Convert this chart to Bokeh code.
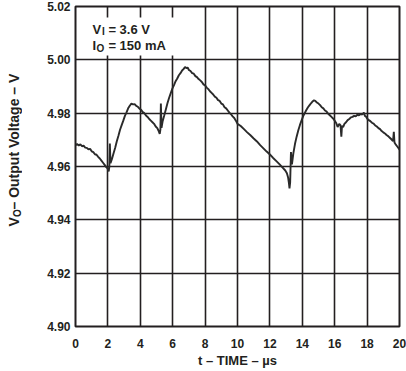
import math
from bokeh.plotting import figure
from bokeh.layouts import row
from bokeh.models import (Label, BoxAnnotation, FixedTicker, Range1d,
                          CustomJSTickFormatter)
from bokeh.embed import file_html
from bokeh.resources import INLINE

# Output voltage trace (time in µs, voltage in V)
time_us = [0.0, 0.1, 0.2, 0.3, 0.4, 0.5, 0.6, 0.7, 0.8, 0.9, 1.0, 1.1, 1.2, 1.3, 1.4,
           1.5, 1.6, 1.7, 1.8, 1.9, 1.97, 2.05, 2.09, 2.12, 2.16, 2.25, 2.35, 2.45,
           2.55, 2.65, 2.75, 2.85, 2.95, 3.05, 3.15, 3.25, 3.35, 3.45, 3.55, 3.65,
           3.75, 3.85, 3.95, 4.05, 4.15, 4.25, 4.35, 4.45, 4.55, 4.65, 4.75, 4.85,
           4.95, 5.05, 5.12, 5.2, 5.24, 5.27, 5.31, 5.38, 5.48, 5.58, 5.68, 5.78,
           5.88, 5.98, 6.08, 6.18, 6.28, 6.38, 6.48, 6.58, 6.68, 6.76, 6.84, 6.92,
           7.0, 7.1, 7.2, 7.3, 7.4, 7.5, 7.6, 7.7, 7.8, 7.9, 8.0, 8.1, 8.2, 8.3,
           8.4, 8.5, 8.6, 8.7, 8.8, 8.9, 9.0, 9.1, 9.2, 9.3, 9.4, 9.5, 9.6, 9.7,
           9.8, 9.9, 10.0, 10.2, 10.4, 10.6, 10.8, 11.0, 11.2, 11.4, 11.6, 11.8,
           12.0, 12.2, 12.4, 12.6, 12.8, 12.95, 13.05, 13.12, 13.17, 13.21, 13.25,
           13.3, 13.36, 13.45, 13.55, 13.65, 13.75, 13.85, 13.95, 14.05, 14.15,
           14.25, 14.35, 14.45, 14.55, 14.65, 14.72, 14.8, 14.9, 15.0, 15.1, 15.2,
           15.3, 15.4, 15.5, 15.6, 15.7, 15.8, 15.9, 16.0, 16.1, 16.18, 16.28,
           16.36, 16.41, 16.45, 16.52, 16.6, 16.7, 16.8, 16.9, 17.0, 17.1, 17.2,
           17.3, 17.4, 17.5, 17.6, 17.7, 17.8, 17.86, 17.92, 18.0, 18.1, 18.2,
           18.3, 18.4, 18.5, 18.6, 18.7, 18.8, 18.9, 19.0, 19.1, 19.2, 19.3, 19.4,
           19.5, 19.6, 19.65, 19.69, 19.75, 19.85, 19.95, 20.0]
voltage_v = [4.9680, 4.9684, 4.9679, 4.9683, 4.9676, 4.9678, 4.9671, 4.9670, 4.9664,
             4.9666, 4.9657, 4.9654, 4.9646, 4.9644, 4.9636, 4.9630, 4.9622, 4.9614,
             4.9606, 4.9597, 4.9594, 4.9582, 4.9600, 4.9686, 4.9612, 4.9628, 4.9650,
             4.9670, 4.9695, 4.9715, 4.9738, 4.9755, 4.9772, 4.9790, 4.9803, 4.9818,
             4.9828, 4.9836, 4.9833, 4.9834, 4.9827, 4.9824, 4.9817, 4.9813, 4.9804,
             4.9800, 4.9791, 4.9786, 4.9778, 4.9772, 4.9766, 4.9760, 4.9750, 4.9744,
             4.9735, 4.9722, 4.9738, 4.9836, 4.9745, 4.9770, 4.9792, 4.9815, 4.9838,
             4.9858, 4.9875, 4.9892, 4.9905, 4.9920, 4.9930, 4.9942, 4.9950, 4.9960,
             4.9966, 4.9973, 4.9969, 4.9971, 4.9962, 4.9958, 4.9950, 4.9948, 4.9939,
             4.9935, 4.9928, 4.9923, 4.9917, 4.9908, 4.9904, 4.9896, 4.9890, 4.9882,
             4.9876, 4.9870, 4.9862, 4.9858, 4.9849, 4.9846, 4.9836, 4.9833, 4.9822,
             4.9818, 4.9810, 4.9802, 4.9796, 4.9788, 4.9782, 4.9772, 4.9760, 4.9752,
             4.9740, 4.9728, 4.9717, 4.9705, 4.9694, 4.9680, 4.9668, 4.9656, 4.9645,
             4.9632, 4.9620, 4.9608, 4.9595, 4.9585, 4.9575, 4.9560, 4.9540, 4.9518,
             4.9540, 4.9654, 4.9608, 4.9650, 4.9685, 4.9712, 4.9735, 4.9755, 4.9772,
             4.9788, 4.9800, 4.9812, 4.9822, 4.9830, 4.9838, 4.9845, 4.9848, 4.9846,
             4.9840, 4.9836, 4.9830, 4.9822, 4.9818, 4.9810, 4.9806, 4.9798, 4.9792,
             4.9786, 4.9780, 4.9772, 4.9762, 4.9748, 4.9760, 4.9754, 4.9712, 4.9752,
             4.9748, 4.9760, 4.9766, 4.9774, 4.9778, 4.9784, 4.9786, 4.9790, 4.9788,
             4.9794, 4.9792, 4.9797, 4.9795, 4.9802, 4.9790, 4.9788, 4.9780, 4.9774,
             4.9770, 4.9764, 4.9761, 4.9754, 4.9750, 4.9744, 4.9740, 4.9733, 4.9728,
             4.9724, 4.9718, 4.9714, 4.9708, 4.9702, 4.9695, 4.9730, 4.9690, 4.9684,
             4.9676, 4.9668, 4.9663]

x_ticks = [0, 2, 4, 6, 8, 10, 12, 14, 16, 18, 20]
y_ticks = [4.90, 4.92, 4.94, 4.96, 4.98, 5.00, 5.02]
x_label = "t \u2013 TIME \u2013 \u00b5s"
y_label_main = "V"
y_label_sub = "O"
y_label_rest = "\u2013 Output Voltage \u2013 V"
cond1 = ("V", "I", "= 3.6 V")
cond2 = ("I", "O", "= 150 mA")

INK = "#231f20"
FONT = "Liberation Sans"
H = 370

# ---- main chart ----
p = figure(width=384, height=H, output_backend="svg", toolbar_location=None,
           x_range=Range1d(0, 20), y_range=Range1d(4.90, 5.02),
           min_border_left=53, min_border_right=7, min_border_top=6,
           min_border_bottom=44)
p.background_fill_color = "white"
p.border_fill_color = "white"
p.outline_line_color = INK
p.outline_line_width = 2

for ax, ticks in ((p.xaxis, x_ticks), (p.yaxis, y_ticks)):
    ax.ticker = FixedTicker(ticks=ticks)
    ax.axis_line_color = None
    ax.major_tick_line_color = None
    ax.minor_tick_line_color = None
    ax.major_tick_out = 0
    ax.major_tick_in = 0
    ax.minor_tick_out = 0
    ax.major_label_text_font = FONT
    ax.major_label_text_font_style = "bold"
    ax.major_label_text_font_size = "12px"
    ax.major_label_text_color = INK

p.xaxis.major_label_standoff = 12
p.yaxis.major_label_standoff = 5
p.yaxis.formatter = CustomJSTickFormatter(code="return tick.toFixed(2);")

p.xaxis.axis_label = x_label
p.xaxis.axis_label_text_font = FONT
p.xaxis.axis_label_text_font_style = "bold"
p.xaxis.axis_label_text_font_size = "13px"
p.xaxis.axis_label_text_color = INK
p.xaxis.axis_label_standoff = 2

p.grid.grid_line_color = INK
p.grid.grid_line_width = 1.6
p.xgrid.ticker = FixedTicker(ticks=x_ticks)
p.ygrid.ticker = FixedTicker(ticks=y_ticks)

# white box behind the condition text
p.add_layout(BoxAnnotation(left=0.12, right=6.3, bottom=5.0016, top=5.0159,
                           fill_color="white", fill_alpha=1.0, line_color=None,
                           level="underlay"))

p.line(time_us, voltage_v, line_color="#2a2a2a", line_width=1.9)

def txt(fig, x, y, s, size, angle=0.0):
    fig.add_layout(Label(x=x, y=y, text=s, text_font=FONT, text_font_style="bold",
                         text_font_size=size, text_color=INK, angle=angle,
                         text_align="left", text_baseline="alphabetic"))

# conditions
txt(p, 1.05, 5.0114, cond1[0], "13px")
txt(p, 1.63, 5.0105, cond1[1], "10px")
txt(p, 2.03, 5.0114, cond1[2], "13px")
txt(p, 1.05, 5.0052, cond2[0], "13px")
txt(p, 1.30, 5.0043, cond2[1], "10px")
txt(p, 2.03, 5.0052, cond2[2], "13px")

# ---- narrow strip holding the rotated y axis title ----
W = 22
q = figure(width=W, height=H, frame_width=W, frame_height=H,
           output_backend="svg", toolbar_location=None,
           x_range=Range1d(0, W), y_range=Range1d(0, H),
           min_border=0, min_border_left=0, min_border_right=0,
           min_border_top=0, min_border_bottom=0,
           x_axis_type=None, y_axis_type=None)
q.outline_line_color = None
q.grid.visible = False
q.background_fill_color = "white"
q.border_fill_color = "white"

up = math.pi / 2
txt(q, 13.5, H - 220, y_label_main, "14px", up)
txt(q, 16.5, H - 210.5, y_label_sub, "10px", up)
txt(q, 13.5, H - 203, y_label_rest, "14px", up)

layout = row(q, p, spacing=0)
open("out.html", "w").write(file_html(layout, INLINE))
